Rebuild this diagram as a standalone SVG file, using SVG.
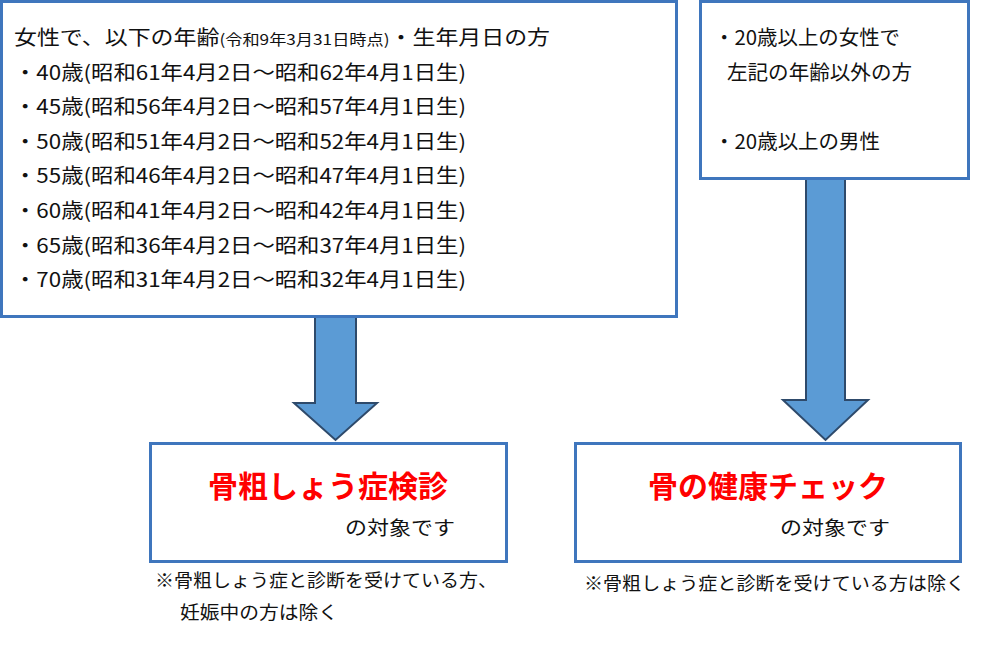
<svg xmlns="http://www.w3.org/2000/svg" width="1000" height="646" viewBox="0 0 1000 646">
<style>
.box{fill:#fff;stroke:#3f76bd;stroke-width:3}
.arr{fill:#5b9bd5;stroke:#2e4a6b;stroke-width:2;stroke-linejoin:miter}
text{font-family:"Noto Sans CJK JP","Noto Sans",sans-serif;fill:#111}
.t{font-size:20px}
.s{font-size:15px}
.red{font-size:30px;font-weight:bold;fill:#ff0000}
.m{font-size:19px}
.n{font-size:18px}
</style>
<rect width="1000" height="646" fill="#fff"/>
<g id="connectors">
<polygon class="arr" points="315,317 356,317 356,403 377,403 335.5,440 294,403 315,403"/>
<polygon class="arr" points="806,179 845,179 845,400 868,400 825.5,440 783,400 806,400"/>
</g>
<g id="n1">
<rect class="box" x="1.5" y="1.5" width="675" height="315"/>
<text class="t" x="14" y="45" textLength="536" lengthAdjust="spacingAndGlyphs">女性で、以下の年齢<tspan class="s">(令和9年3月31日時点)</tspan>・生年月日の方</text>
<text class="t" x="14" y="80" textLength="452" lengthAdjust="spacingAndGlyphs">・40歳(昭和61年4月2日～昭和62年4月1日生)</text>
<text class="t" x="14" y="114" textLength="452" lengthAdjust="spacingAndGlyphs">・45歳(昭和56年4月2日～昭和57年4月1日生)</text>
<text class="t" x="14" y="149" textLength="452" lengthAdjust="spacingAndGlyphs">・50歳(昭和51年4月2日～昭和52年4月1日生)</text>
<text class="t" x="14" y="183" textLength="452" lengthAdjust="spacingAndGlyphs">・55歳(昭和46年4月2日～昭和47年4月1日生)</text>
<text class="t" x="14" y="218" textLength="452" lengthAdjust="spacingAndGlyphs">・60歳(昭和41年4月2日～昭和42年4月1日生)</text>
<text class="t" x="14" y="253" textLength="452" lengthAdjust="spacingAndGlyphs">・65歳(昭和36年4月2日～昭和37年4月1日生)</text>
<text class="t" x="14" y="287" textLength="452" lengthAdjust="spacingAndGlyphs">・70歳(昭和31年4月2日～昭和32年4月1日生)</text>
</g>
<g id="n2">
<rect class="box" x="700.5" y="1.5" width="268" height="177"/>
<text class="t" x="714" y="45" textLength="186" lengthAdjust="spacingAndGlyphs">・20歳以上の女性で</text>
<text class="t" x="727" y="80" textLength="185" lengthAdjust="spacingAndGlyphs">左記の年齢以外の方</text>
<text class="t" x="714" y="149" textLength="166" lengthAdjust="spacingAndGlyphs">・20歳以上の男性</text>
</g>
<g id="n3">
<rect class="box" x="150.5" y="443.5" width="356" height="118"/>
<text class="red" x="328" y="497" text-anchor="middle">骨粗しょう症検診</text>
<text class="m" x="345" y="535" textLength="110" lengthAdjust="spacingAndGlyphs">の対象です</text>
</g>
<g id="n4">
<rect class="box" x="575.5" y="443.5" width="385" height="118"/>
<text class="red" x="768" y="497" text-anchor="middle">骨の健康チェック</text>
<text class="m" x="780" y="535" textLength="110" lengthAdjust="spacingAndGlyphs">の対象です</text>
</g>
<g id="notes">
<text class="n" x="155" y="587" textLength="342" lengthAdjust="spacingAndGlyphs">※骨粗しょう症と診断を受けている方、</text>
<text class="n" x="180" y="619" textLength="158" lengthAdjust="spacingAndGlyphs">妊娠中の方は除く</text>
<text class="n" x="584" y="590" textLength="381" lengthAdjust="spacingAndGlyphs">※骨粗しょう症と診断を受けている方は除く</text>
</g>
</svg>
